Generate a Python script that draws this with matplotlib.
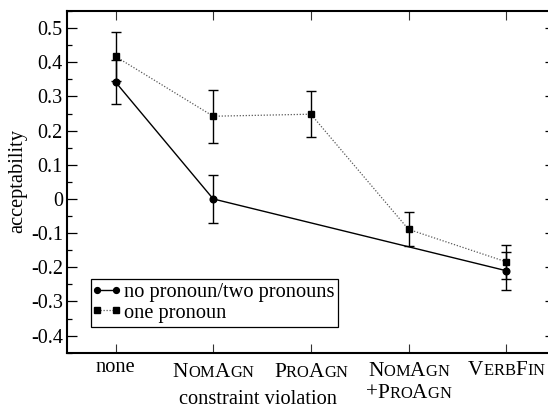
import matplotlib
matplotlib.use("Agg")
import matplotlib.pyplot as plt
from matplotlib.lines import Line2D
from matplotlib.legend_handler import HandlerLine2D
from matplotlib.transforms import IdentityTransform
import numpy as np

plt.rcParams['font.family'] = ['Liberation Serif', 'DejaVu Serif']
plt.rcParams['axes.unicode_minus'] = False

# categories along the x axis (small caps except "none")
categories = ["none", "NomAgn", "ProAgn", "NomAgn\n+ProAgn", "VerbFin"]

# no pronoun / two pronouns (no value for ProAgn and NomAgn+ProAgn)
x_none_two = [0, 1, 4]
y_none_two = [0.342, 0.0, -0.21]
err_none_two = [0.065, 0.069, 0.056]

# one pronoun
x_one = [0, 1, 2, 3, 4]
y_one = [0.417, 0.242, 0.248, -0.089, -0.184]
err_one = [0.073, 0.077, 0.067, 0.05, 0.05]

yticks = [-0.4, -0.3, -0.2, -0.1, 0, 0.1, 0.2, 0.3, 0.4, 0.5]

W, H = 548, 408
fig = plt.figure(figsize=(W / 100, H / 100), dpi=100)
ax = fig.add_axes([66.7 / W, 55.3 / H, 488.3 / W, 341.7 / H])

fs = 14.7        # labels and legend
fs_tick = 14.5   # y tick labels
fs_cat = 15.3    # category names
dotted = (0, (1, 1.4))

ax.plot(x_one, y_one, color='0.35', lw=0.9, ls=dotted, zorder=2)
ax.errorbar(x_one, y_one, yerr=err_one, fmt='none', ecolor='black',
            elinewidth=1, capsize=3.8, capthick=1, zorder=3)
ax.plot(x_one, y_one, ls='none', marker='s', ms=5, color='black', zorder=4)

ax.plot(x_none_two, y_none_two, color='black', lw=1, zorder=2)
ax.errorbar(x_none_two, y_none_two, yerr=err_none_two, fmt='none',
            ecolor='black', elinewidth=1, capsize=3.8, capthick=1, zorder=3)
ax.plot(x_none_two, y_none_two, ls='none', marker='o', ms=4.8,
        color='black', zorder=4)

ax.set_xlim(-0.5, 4.5)
ax.set_ylim(-0.45, 0.55)
ax.set_xticks(range(len(categories)))
ax.set_xticklabels([])
ax.set_yticks(yticks)
ax.set_yticklabels(['%g' % v for v in yticks], fontsize=fs_tick)
ax.set_yticks(np.arange(-0.45, 0.551, 0.05), minor=True)
ax.tick_params(axis='y', which='major', direction='in', length=7.2,
               width=0.9, left=True, right=True, pad=2.8)
ax.tick_params(axis='y', which='minor', direction='in', length=3.6,
               width=0.9, left=True, right=True)
ax.tick_params(axis='x', which='major', direction='in', length=6.5,
               width=0.8, top=True, bottom=True, color='0.2')
for sp in ax.spines.values():
    sp.set_linewidth(1.5)

# small caps category labels, built piece by piece
renderer = fig.canvas.get_renderer()
baselines = [[372], [377], [377], [376.5, 397.5], [375]]


def caps_pieces(word):
    out = []
    for ch in word:
        if ch.islower():
            out.append((ch.upper(), fs_cat * 0.78))
        else:
            out.append((ch, fs_cat))
    return out


for i, label in enumerate(categories):
    xc = ax.transData.transform((i, 0))[0]
    for line, yb in zip(label.split("\n"), baselines[i]):
        pieces = [(line, fs)] if line == "none" else caps_pieces(line)
        txts = []
        total = 0
        for s, size in pieces:
            t = fig.text(0, 0, s, fontsize=size, va='baseline', ha='left',
                         transform=IdentityTransform())
            w = t.get_window_extent(renderer).width
            txts.append((t, w))
            total += w
        x0 = xc - total / 2
        for t, w in txts:
            t.set_position((x0, H - yb))
            x0 += w

fig.text(258 / W, 1 - 404.5 / H, "constraint violation", fontsize=fs,
         ha='center', va='baseline')
fig.text(18 / W, 1 - 181 / H, "acceptability", fontsize=fs,
         ha='center', va='center', rotation=90)

handles = [
    Line2D([], [], color='black', lw=1, marker='o', ms=4.2),
    Line2D([], [], color='0.35', lw=0.9, ls=dotted, marker='s', ms=4.2,
           mfc='black', mec='black'),
]
leg = ax.legend(handles, ["no pronoun/two pronouns", "one pronoun"],
                loc='lower left', bbox_to_anchor=(0.0498, 0.0761),
                borderaxespad=0, fontsize=fs, numpoints=2, fancybox=False,
                framealpha=1, edgecolor='black', handlelength=1.1,
                handletextpad=0.3, labelspacing=0.05, borderpad=0.2,
                handler_map={Line2D: HandlerLine2D(marker_pad=0.1)})
leg.get_frame().set_linewidth(0.9)

fig.savefig("out.png", dpi=100)
